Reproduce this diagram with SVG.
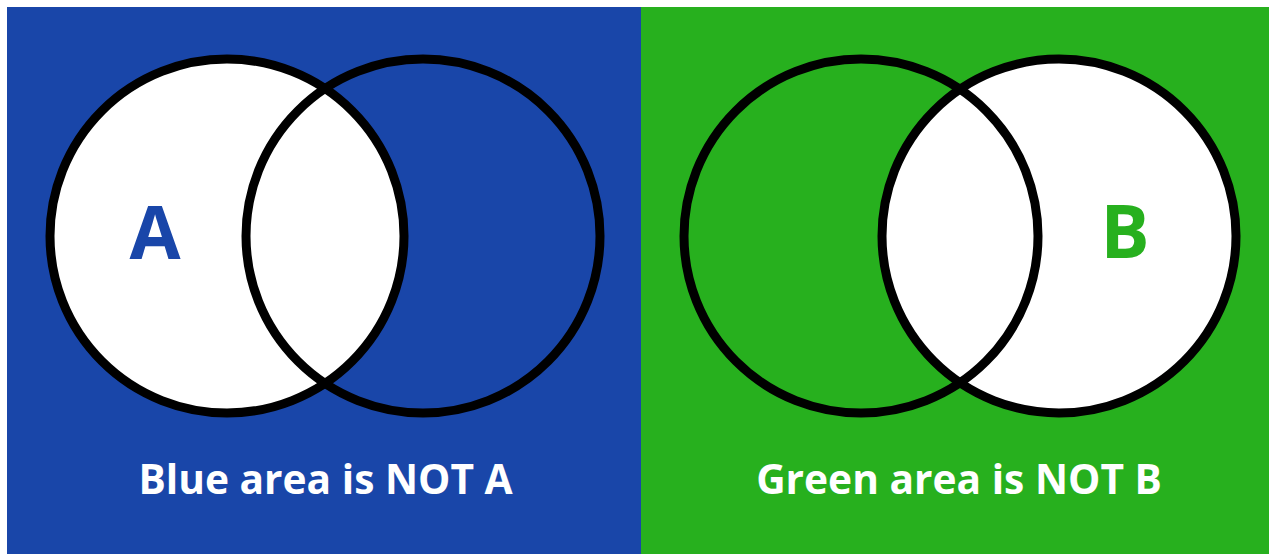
<svg xmlns="http://www.w3.org/2000/svg" width="1269" height="554" viewBox="0 0 1269 554">
<style>
.ring{fill:none;stroke:#000;stroke-width:9}
.lbl{font-family:"Open Sans","Liberation Sans",sans-serif;font-weight:bold;text-anchor:middle}
.cap{font-family:"Open Sans","Liberation Sans",sans-serif;font-weight:bold;text-anchor:middle;fill:#fff;font-size:40.7px}
</style>
<rect width="1269" height="554" fill="#fff"/>
<g id="panel-blue">
<rect x="7" y="7" width="634" height="547" fill="#1946a9"/>
<circle cx="227" cy="236" r="177" fill="#fff"/>
<circle class="ring" cx="227" cy="236" r="177"/>
<circle class="ring" cx="423" cy="236" r="177"/>
<text class="lbl" x="155" y="259" font-size="74" fill="#1946a9">A</text>
<text class="cap" x="325.5" y="494">Blue area is NOT A</text>
</g>
<g id="panel-green">
<rect x="641" y="7" width="628" height="547" fill="#27b01e"/>
<circle cx="1059" cy="236" r="177" fill="#fff"/>
<circle class="ring" cx="861" cy="236" r="177"/>
<circle class="ring" cx="1059" cy="236" r="177"/>
<text class="lbl" x="1125" y="258" font-size="73" fill="#27b01e">B</text>
<text class="cap" x="959" y="494">Green area is NOT B</text>
</g>
<g id="connectors"/>
</svg>
